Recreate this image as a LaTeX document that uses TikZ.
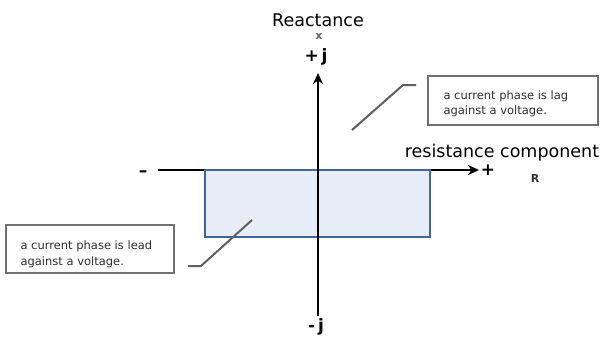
\documentclass[tikz,border=0pt]{standalone}
\usepackage{fontspec}
\setmainfont{DejaVu Sans}
\usetikzlibrary{arrows.meta}
\definecolor{rectfill}{HTML}{E7EDF6}
\definecolor{rectline}{HTML}{3E6699}
\definecolor{boxline}{HTML}{707070}
\definecolor{leader}{HTML}{5F5F5F}
\definecolor{txt}{HTML}{2E2E2E}
\tikzset{
  axis/.style={line width=2.6pt,black},
  axarrow/.style={axis,-{Stealth[length=11pt,width=10pt]}},
  callout/.style={draw=boxline,line width=2pt,fill=white,inner sep=0pt},
  leaderline/.style={draw=leader,line width=2pt},
  small/.style={font=\fontsize{11.5}{15.5}\selectfont,text=txt,align=left,anchor=west},
  big/.style={font=\fontsize{17.5}{20}\selectfont,anchor=base},
  sign/.style={font=\fontsize{17}{20}\selectfont\bfseries},
}
\begin{document}
\begin{tikzpicture}[x=1pt,y=-1pt]
\useasboundingbox (0,0) rectangle (601,340);
% horizontal axis
\coordinate (hl) at (158,170);
\coordinate (hr) at (479,170);
\draw[axarrow] (hl) -- (hr);
% rectangle
\node[draw=rectline,fill=rectfill,line width=2pt,minimum width=225pt,minimum height=67pt,inner sep=0pt] (rect) at (317.5,203.5) {};
% vertical axis
\coordinate (vb) at (318,316);
\coordinate (vt) at (318,73);
\draw[axarrow] (vb) -- (vt);
% labels
\node[big] (react) at (318,26) {Reactance};
\node[font=\fontsize{11}{12}\selectfont\bfseries,text=black!60] (xl) at (319,36) {x};
\node[sign] (pj) at (316,57) {+\,j};
\node[sign] (mj) at (316,327) {-\,j};
\node[sign] (minus) at (143,174) {–};
\node[sign] (plus) at (488,170) {+};
\node[font=\fontsize{11}{12}\selectfont\bfseries,text=black!80] (rl) at (535,178) {R};
\node[big] (res) at (502,157) {resistance component};
% callouts
\node[callout,minimum width=170pt,minimum height=49pt] (lagbox) at (513,100.5) {};
\node[small] (lagtxt) at (440,104) {a current phase is lag\\against a voltage.};
\node[callout,minimum width=168pt,minimum height=48pt] (leadbox) at (90,249) {};
\node[small] (leadtxt) at (17,254.5) {a current phase is lead\\against a voltage.};
% leader lines
\coordinate (lagend) at (352,130);
\coordinate (lagk) at (403,85);
\coordinate (lagstart) at (416,85);
\draw[leaderline] (lagend) -- (lagk) -- (lagstart);
\coordinate (leadend) at (252,220);
\coordinate (leadk) at (201,266);
\coordinate (leadstart) at (188,266);
\draw[leaderline] (leadstart) -- (leadk) -- (leadend);
\end{tikzpicture}
\end{document}
